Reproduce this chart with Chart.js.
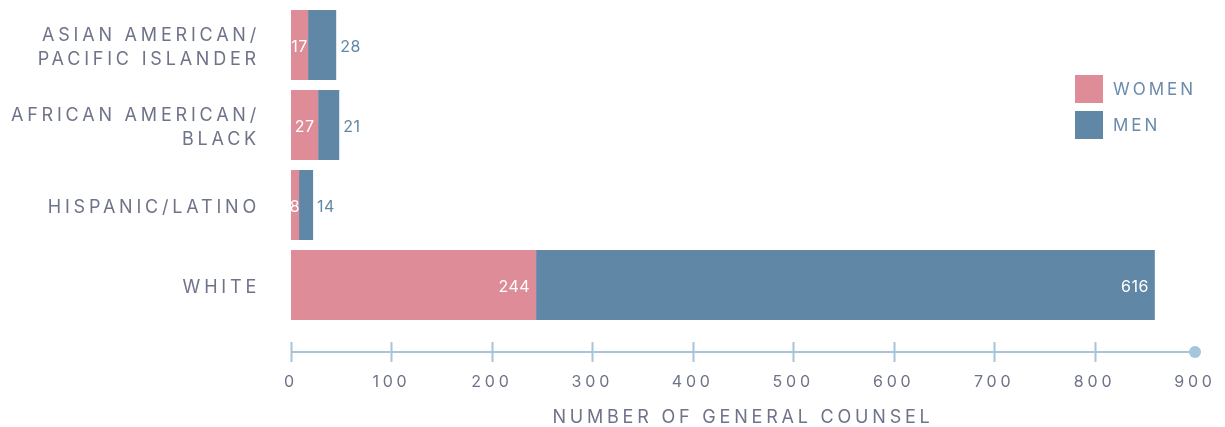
<!DOCTYPE html>
<html>
<head>
<meta charset="utf-8">
<script src="https://cdn.jsdelivr.net/npm/chart.js@4.4.1/dist/chart.umd.min.js"></script>
<style>
  html, body { margin: 0; padding: 0; background: #fff; }
  #wrap { width: 1225px; height: 427px; position: relative; }
</style>
</head>
<body>
<div id="wrap"><canvas id="gcChart"></canvas></div>
<script>
const categories = [
    ['ASIAN AMERICAN/', 'PACIFIC ISLANDER'],
    ['AFRICAN AMERICAN/', 'BLACK'],
    'HISPANIC/LATINO',
    'WHITE',
];
const women = [17, 27, 8, 244];
const men = [28, 21, 14, 616];
const xTicks = [0, 100, 200, 300, 400, 500, 600, 700, 800, 900];

const PINK = '#de8c98';
const BLUE = '#6088a6';
const LABEL = '#6f7389';
const AXIS = '#a5c5da';
const FONT = 'Inter';

// letter spacing gets wiped when the canvas resizes, so set it before each draw;
// also nudge the category labels down a little, Inter sits high on 'middle'
const spacingPlugin = {
    id: 'spacing',
    beforeDraw(chart) {
        chart.ctx.letterSpacing = '3.8px';
        const items = chart.scales.y.getLabelItems();
        items.forEach(it => {
            if (!it._nudged) {
                it.options.translation[1] += 2.5;
                it._nudged = true;
            }
        });
    },
};

// axis line sits below the plot, with tick marks and a dot at the end
const axisPlugin = {
    id: 'axisLine',
    afterDraw(chart) {
        const ctx = chart.ctx;
        const x = chart.scales.x;
        const y = chart.chartArea.bottom + 27;
        const x0 = x.getPixelForValue(0);
        const x1 = x.getPixelForValue(900);
        ctx.save();
        ctx.strokeStyle = AXIS;
        ctx.lineWidth = 2;
        ctx.beginPath();
        ctx.moveTo(x0, y);
        ctx.lineTo(x1, y);
        ctx.stroke();
        xTicks.slice(0, -1).forEach(v => {
            const px = Math.round(x.getPixelForValue(v)) + 0.5;
            ctx.beginPath();
            ctx.moveTo(px, y - 10);
            ctx.lineTo(px, y + 10);
            ctx.stroke();
        });
        ctx.fillStyle = AXIS;
        ctx.beginPath();
        ctx.arc(x1, y, 6, 0, Math.PI * 2);
        ctx.fill();
        ctx.restore();
    },
};

const valuePlugin = {
    id: 'values',
    afterDatasetsDraw(chart) {
        const ctx = chart.ctx;
        ctx.save();
        ctx.letterSpacing = '0.5px';
        ctx.font = '16px ' + FONT;
        ctx.textBaseline = 'middle';
        const wMeta = chart.getDatasetMeta(0);
        const mMeta = chart.getDatasetMeta(1);
        women.forEach((v, i) => {
            const bar = wMeta.data[i];
            const txt = String(v);
            const tw = ctx.measureText(txt).width;
            ctx.fillStyle = '#fff';
            if (bar.x - bar.base < tw + 14) {
                ctx.textAlign = 'center';
                ctx.fillText(txt, (bar.x + bar.base) / 2, bar.y + 2);
            } else {
                ctx.textAlign = 'right';
                ctx.fillText(txt, bar.x - 6, bar.y + 2);
            }
        });
        men.forEach((v, i) => {
            const bar = mMeta.data[i];
            const txt = String(v);
            const tw = ctx.measureText(txt).width;
            if (bar.x - bar.base > tw + 14) {
                ctx.fillStyle = '#fff';
                ctx.textAlign = 'right';
                ctx.fillText(txt, bar.x - 6, bar.y + 2);
            } else {
                ctx.fillStyle = BLUE;
                ctx.textAlign = 'left';
                ctx.fillText(txt, bar.x + 4, bar.y + 2);
            }
        });
        ctx.restore();
    },
};

const legendPlugin = {
    id: 'boxLegend',
    afterDraw(chart) {
        const ctx = chart.ctx;
        const items = [['WOMEN', PINK], ['MEN', BLUE]];
        ctx.save();
        ctx.letterSpacing = '3px';
        ctx.font = '17px ' + FONT;
        ctx.textBaseline = 'middle';
        ctx.textAlign = 'left';
        items.forEach(([name, col], i) => {
            const top = 75 + i * 36;
            ctx.fillStyle = col;
            ctx.fillRect(1075, top, 28, 28);
            ctx.fillStyle = '#6a8bab';
            ctx.fillText(name, 1113, top + 15);
        });
        ctx.restore();
    },
};

function noPad(scale) {
    scale.paddingLeft = 0;
    scale.paddingRight = 0;
    scale.paddingTop = 0;
    scale.paddingBottom = 0;
}

new Chart(document.getElementById('gcChart'), {
    type: 'bar',
    data: {
        labels: categories,
        datasets: [
            { label: 'Women', data: women, backgroundColor: PINK, barPercentage: 0.875, categoryPercentage: 1 },
            { label: 'Men', data: men, backgroundColor: BLUE, barPercentage: 0.875, categoryPercentage: 1 },
        ],
    },
    options: {
        indexAxis: 'y',
        responsive: true,
        maintainAspectRatio: false,
        animation: false,
        layout: { padding: { top: 5, right: 30, left: 0, bottom: 0 } },
        plugins: {
            legend: { display: false },
            tooltip: { enabled: false },
        },
        scales: {
            x: {
                stacked: true,
                min: 0,
                max: 900,
                grid: { display: false, drawTicks: false },
                border: { display: false },
                ticks: {
                    stepSize: 100,
                    padding: 48,
                    color: LABEL,
                    font: { family: FONT, size: 16 },
                    maxRotation: 0,
                },
                title: {
                    display: true,
                    text: 'NUMBER OF GENERAL COUNSEL',
                    color: LABEL,
                    font: { family: FONT, size: 18 },
                    padding: { top: 0, bottom: -1 },
                },
                afterFit(scale) {
                    scale.height = 102;
                    noPad(scale);
                },
            },
            y: {
                stacked: true,
                grid: { display: false, drawTicks: false },
                border: { display: false },
                ticks: {
                    padding: 31,
                    color: LABEL,
                    font: { family: FONT, size: 18, lineHeight: 1.333 },
                },
                afterFit(scale) {
                    scale.width = 291;
                    noPad(scale);
                },
            },
        },
    },
    plugins: [spacingPlugin, axisPlugin, valuePlugin, legendPlugin],
});
</script>
</body>
</html>
